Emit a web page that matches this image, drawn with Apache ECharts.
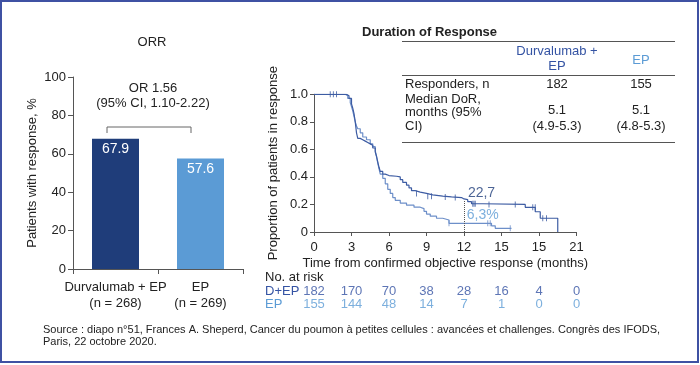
<!DOCTYPE html>
<html><head><meta charset="utf-8">
<script src="https://cdn.jsdelivr.net/npm/echarts/dist/echarts.min.js"></script>
<style>html,body{margin:0;padding:0;background:#fff}#c{width:700px;height:365px}</style>
</head><body><div id="c"></div>
<script>
// ---- ORR bar chart ----
const barCategories = ['Durvalumab + EP\n(n = 268)', 'EP\n(n = 269)'];
const orrValues = [67.9, 57.6];
const orrTitle = 'ORR';
const orrAnnotation = ['OR 1.56', '(95% CI, 1.10-2.22)'];

// ---- Kaplan-Meier (duration of response) ----
const kmTickLabels = ['0', '3', '6', '9', '12', '15', '15', '21'];
const kmDEP = [[0,1.0],[2.6,0.99],[2.8,0.97],[3.0,0.93],[3.1,0.90],[3.2,0.86],[3.3,0.80],[3.4,0.72],[3.5,0.68],
  [3.7,0.67],[3.9,0.66],[4.1,0.65],[4.3,0.64],[4.5,0.63],[4.7,0.61],[4.9,0.58],[5.0,0.55],[5.1,0.51],[5.2,0.47],
  [5.3,0.44],[5.5,0.42],[5.7,0.41],[6.0,0.405],[6.6,0.40],[6.9,0.38],[7.1,0.36],[7.4,0.34],[7.6,0.32],[7.8,0.30],
  [8.1,0.29],[8.5,0.28],[9.0,0.27],[9.5,0.26],[10.3,0.255],[11.0,0.25],[11.8,0.24],[12.0,0.235],[12.3,0.22],
  [12.6,0.205],[13.5,0.20],[16.9,0.179],[17.7,0.147],[18.1,0.10],[19.5,0.10],[19.5,0]];
const kmEP = [[0,1.0],[2.5,0.99],[2.7,0.97],[2.9,0.94],[3.0,0.91],[3.1,0.88],[3.2,0.84],[3.3,0.80],[3.4,0.77],
  [3.5,0.75],[3.7,0.72],[3.9,0.69],[4.2,0.67],[4.5,0.64],[4.7,0.62],[4.9,0.59],[5.0,0.55],[5.1,0.50],[5.2,0.46],
  [5.3,0.42],[5.5,0.39],[5.7,0.35],[5.9,0.31],[6.1,0.28],[6.3,0.25],[6.5,0.23],[6.9,0.21],[7.4,0.195],[8.0,0.18],
  [8.5,0.17],[8.8,0.15],[9.0,0.13],[9.3,0.115],[9.8,0.10],[10.3,0.087],[10.8,0.063],[14.2,0.045],[14.5,0.027],[15.8,0.027]];
const censorDEP = [[1.3,1],[1.55,1],[1.8,1],[8.2,0.28],[9.1,0.26],[9.4,0.26],[10.5,0.255],[11.3,0.25],[12.7,0.205],
  [12.8,0.205],[12.9,0.205],[14.0,0.20],[16.1,0.20],[17.5,0.179],[17.7,0.179],[18.3,0.10],[18.6,0.10]];
const censorEP = [[10.8,0.063],[13.9,0.063],[14.1,0.063],[15.7,0.027]];
const landmarkMonth = 12;
const landmarkValue = 0.227;
const landmarkLabels = [['22,7', 13.4, 0.283], ['6,3%', 13.5, 0.123]];

// ---- Number at risk ----
const riskRowNames = ['D+EP', 'EP'];
const riskMonths = [0, 3, 6, 9, 12, 15, 18, 21];
const riskDEP = [182, 170, 70, 38, 28, 16, 4, 0];
const riskEP = [155, 144, 48, 14, 7, 1, 0, 0];

// ---- Duration of Response table ----
const tableTitle = 'Duration of Response';
const tableHeaders = [['Durvalumab +', 'EP'], ['EP']];
const tableRowLabels = [['Responders, n'], ['Median DoR,', 'months (95%', 'CI)']];
const tableDEP = [['182'], ['5.1', '(4.9-5.3)']];
const tableEP = [['155'], ['5.1', '(4.8-5.3)']];

const sourceLines = ['Source : diapo n°51, Frances A. Sheperd, Cancer du poumon à petites cellules : avancées et challenges. Congrès des IFODS,',
  'Paris, 22 octobre 2020.'];

const FONT = "'Liberation Sans', Arial, sans-serif";
const NAVY = '#1f3d7a', LIGHT = '#5b9bd5', DEPCURVE = '#3d5ca3', EPCURVE = '#6d8fc9', HEADBLUE = '#3453a3', AXIS = '#555', TXT = '#222';

function txt(x, y, s, opt) {
  opt = opt || {};
  return { type: 'text', silent: true, style: { x: x, y: y, text: s, fill: opt.color || TXT,
    font: (opt.weight || 'normal') + ' ' + (opt.size || 13) + 'px ' + FONT,
    textAlign: opt.align || 'left', textVerticalAlign: 'middle', verticalAlign: 'middle' } };
}

const graphics = [];
graphics.push({ type: 'rect', silent: true, shape: { x: 1, y: 1, width: 697, height: 361 }, style: { fill: 'none', stroke: '#3f51a3', lineWidth: 2 } });
graphics.push(txt(152, 42, orrTitle, { align: 'center' }));
graphics.push(txt(153, 88, orrAnnotation[0], { align: 'center' }));
graphics.push(txt(153, 103, orrAnnotation[1], { align: 'center' }));
graphics.push({ type: 'polyline', silent: true, shape: { points: [[107, 133], [107, 127], [191, 127], [191, 133]] }, style: { fill: 'none', stroke: '#666', lineWidth: 1 } });
// table
graphics.push(txt(362, 32, tableTitle, { weight: 'bold' }));
[41, 75, 142].forEach(function (y) {
  graphics.push({ type: 'line', silent: true, shape: { x1: 402, y1: y + 0.5, x2: 675, y2: y + 0.5 }, style: { stroke: '#555', lineWidth: 1 } });
});
const colDEP = 557, colEP = 641;
graphics.push(txt(colDEP, 51, tableHeaders[0][0], { align: 'center', color: HEADBLUE }));
graphics.push(txt(colDEP, 66, tableHeaders[0][1], { align: 'center', color: HEADBLUE }));
graphics.push(txt(colEP, 60, tableHeaders[1][0], { align: 'center', color: LIGHT }));
graphics.push(txt(405, 84, tableRowLabels[0][0]));
graphics.push(txt(405, 99, tableRowLabels[1][0]));
graphics.push(txt(405, 112.5, tableRowLabels[1][1]));
graphics.push(txt(405, 126, tableRowLabels[1][2]));
graphics.push(txt(colDEP, 84, tableDEP[0][0], { align: 'center' }));
graphics.push(txt(colEP, 84, tableEP[0][0], { align: 'center' }));
graphics.push(txt(colDEP, 110.5, tableDEP[1][0], { align: 'center' }));
graphics.push(txt(colEP, 110.5, tableEP[1][0], { align: 'center' }));
graphics.push(txt(colDEP, 126, tableDEP[1][1], { align: 'center' }));
graphics.push(txt(colEP, 126, tableEP[1][1], { align: 'center' }));
graphics.push(txt(265, 277.5, 'No. at risk'));
graphics.push(txt(265, 291.7, riskRowNames[0], { color: HEADBLUE }));
graphics.push(txt(265, 304, riskRowNames[1], { color: LIGHT }));
graphics.push(txt(43, 330, sourceLines[0], { size: 11 }));
graphics.push(txt(43, 342, sourceLines[1], { size: 11 }));

const chart = echarts.init(document.getElementById('c'), null, { renderer: 'canvas' });
chart.setOption({
  animation: false,
  backgroundColor: '#fff',
  textStyle: { fontFamily: FONT },
  grid: [
    { left: 73, top: 77, width: 170, height: 192 },
    { left: 314, top: 94.3, width: 262.5, height: 137.7 },
    { left: 314, top: 285.5, width: 262.5, height: 24.6 }
  ],
  xAxis: [
    { gridIndex: 0, type: 'category', data: barCategories,
      axisLine: { lineStyle: { color: AXIS } }, axisTick: { show: true, length: 5, lineStyle: { color: AXIS } },
      axisLabel: { interval: 0, color: TXT, fontSize: 13, lineHeight: 16, margin: 10, fontFamily: FONT } },
    { gridIndex: 1, type: 'value', min: 0, max: 21, interval: 3,
      axisLine: { show: true, lineStyle: { color: AXIS } }, axisTick: { show: true, length: 4, lineStyle: { color: AXIS } },
      splitLine: { show: false },
      axisLabel: { color: TXT, fontSize: 13, margin: 9, fontFamily: FONT,
        formatter: function (v) { return kmTickLabels[Math.round(v / 3)]; } },
      name: 'Time from confirmed objective response (months)', nameLocation: 'middle', nameGap: 25,
      nameTextStyle: { color: TXT, fontSize: 13, fontFamily: FONT } },
    { gridIndex: 2, type: 'value', min: 0, max: 21, show: false }
  ],
  yAxis: [
    { gridIndex: 0, type: 'value', min: 0, max: 100, interval: 20,
      axisLine: { show: true, lineStyle: { color: AXIS } }, axisTick: { show: true, length: 5, lineStyle: { color: AXIS } },
      splitLine: { show: false }, axisLabel: { color: TXT, fontSize: 13, margin: 7, fontFamily: FONT },
      name: 'Patients with response, %', nameLocation: 'middle', nameGap: 34,
      nameTextStyle: { color: TXT, fontSize: 13, fontFamily: FONT } },
    { gridIndex: 1, type: 'value', min: 0, max: 1, interval: 0.2,
      axisLine: { show: true, lineStyle: { color: AXIS } }, axisTick: { show: true, length: 4, lineStyle: { color: AXIS } },
      splitLine: { show: false },
      axisLabel: { color: TXT, fontSize: 13, margin: 6, fontFamily: FONT,
        formatter: function (v) { return v === 0 ? '0' : v.toFixed(1); } },
      name: 'Proportion of patients in response', nameLocation: 'middle', nameGap: 34,
      nameTextStyle: { color: TXT, fontSize: 13, fontFamily: FONT } },
    { gridIndex: 2, type: 'category', data: ['EP', 'D+EP'], show: false }
  ],
  series: [
    { type: 'bar', xAxisIndex: 0, yAxisIndex: 0, barWidth: 47,
      data: orrValues.map(function (v, i) { return { value: v, itemStyle: { color: i === 0 ? NAVY : LIGHT } }; }),
      label: { show: true, position: 'insideTop', distance: 4, color: '#fff', fontSize: 14, fontFamily: FONT,
        formatter: function (p) { return p.value.toFixed(1); } } },
    { type: 'line', xAxisIndex: 1, yAxisIndex: 1, step: 'end', data: kmEP, symbol: 'none',
      lineStyle: { color: EPCURVE, width: 1.2 } },
    { type: 'line', xAxisIndex: 1, yAxisIndex: 1, step: 'end', data: kmDEP, symbol: 'none',
      lineStyle: { color: DEPCURVE, width: 1.2 },
      markLine: { silent: true, symbol: 'none', label: { show: false },
        lineStyle: { type: 'dotted', color: '#555', width: 1 },
        data: [[{ coord: [landmarkMonth, 0] }, { coord: [landmarkMonth, landmarkValue] }]] } },
    { type: 'scatter', xAxisIndex: 1, yAxisIndex: 1, data: censorDEP, symbol: 'rect', symbolSize: [1, 6],
      itemStyle: { color: DEPCURVE } },
    { type: 'scatter', xAxisIndex: 1, yAxisIndex: 1, data: censorEP, symbol: 'rect', symbolSize: [1, 6],
      itemStyle: { color: EPCURVE } },
    { type: 'scatter', xAxisIndex: 1, yAxisIndex: 1, symbolSize: 0, silent: true,
      data: landmarkLabels.map(function (d, i) {
        return { value: [d[1], d[2]], label: { show: true, position: 'inside', formatter: d[0], fontSize: 14,
          fontFamily: FONT, color: i === 0 ? NAVY : LIGHT } };
      }) },
    { type: 'scatter', xAxisIndex: 2, yAxisIndex: 2, symbolSize: 0, silent: true,
      data: riskMonths.map(function (m, i) { return [m, 'D+EP', riskDEP[i]]; }),
      label: { show: true, position: 'inside', color: HEADBLUE, fontSize: 13, fontFamily: FONT,
        formatter: function (p) { return String(p.data[2]); } } },
    { type: 'scatter', xAxisIndex: 2, yAxisIndex: 2, symbolSize: 0, silent: true,
      data: riskMonths.map(function (m, i) { return [m, 'EP', riskEP[i]]; }),
      label: { show: true, position: 'inside', color: LIGHT, fontSize: 13, fontFamily: FONT,
        formatter: function (p) { return String(p.data[2]); } } }
  ],
  graphic: graphics
});
</script></body></html>
